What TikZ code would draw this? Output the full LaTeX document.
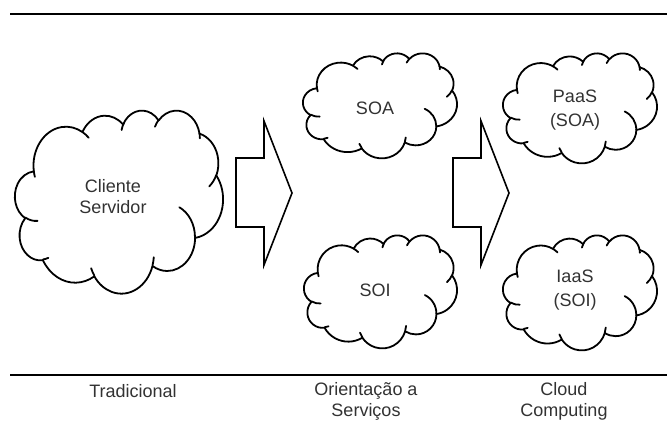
\documentclass[tikz,border=0pt]{standalone}
\usepackage{fontspec}
\setmainfont{Liberation Sans}
\definecolor{textgray}{RGB}{50,50,50}

\tikzset{
  nuvemlinha/.style={draw=black, line width=1.8pt, line join=round, line cap=round},
  rotulo/.style={align=center, text=textgray, font=\fontsize{18}{21}\selectfont, inner sep=0pt},
  seta/.style={draw=black, line width=1.6pt, line join=miter},
  % arc given by its visual start angle / sweep / radii
  oarc/.style args={#1/#2/#3/#4}{x radius=#3, y radius=#4,
    start angle={atan2(#3*sin(#1),#4*cos(#1))},
    delta angle={mod(atan2(#3*sin(#1+#2),#4*cos(#1+#2))-atan2(#3*sin(#1),#4*cos(#1))+720,360)}},
  pics/nuvem/.style={code={
    % outline
    \draw[nuvemlinha] (-177.00,-72.30)
      arc[oarc={-190.4875/123.7805/67.53/91.90}]
      arc[oarc={-144.1024/89.9452/53.33/72.67}]
      arc[oarc={-145.8079/99.7230/43.65/59.45}]
      arc[oarc={-130.9861/117.2417/48.57/65.95}]
      arc[oarc={-78.7089/109.0269/53.33/72.73}]
      arc[oarc={-46.2673/130.2690/67.75/92.20}]
      arc[oarc={0.6250/114.0333/57.85/78.67}]
      arc[oarc={22.4516/115.1726/67.52/92.15}]
      arc[oarc={66.2426/75.7110/77.20/105.43}]
      arc[oarc={-274.9421/146.7356/43.60/59.18}]
      arc[oarc={-246.8285/152.5189/43.45/59.45}]
      -- cycle;
    % curls
    \draw[nuvemlinha]
      (-169.07,45.77) arc[oarc={86.742/26.4295/43.45/59.45}]
      (-146.72,132.99) arc[oarc={73.6105/11.4475/43.60/59.18}]
      (-51.22,174.90) arc[oarc={137.6242/14.0811/67.52/92.15}]
      (72.27,131.51) arc[oarc={6.4533/15.9984/67.52/92.15}]
      (125.29,13.54) arc[oarc={-70.2924/70.9174/57.85/78.67}]
      (201.98,-62.46) arc[oarc={30.3180/27.7515/53.33/72.73}]
      (167.24,-161.74) arc[oarc={-13.7443/14.8589/48.57/65.95}]
      (74.78,-176.48) arc[oarc={-149.1815/18.1954/48.57/65.95}]
      (5.41,-168.80) arc[oarc={-163.4943/20.7646/43.65/59.45}]
      (-76.00,-164.08) arc[oarc={-66.7070/12.3194/67.53/91.90}]
      (-174.73,-58.11) arc[oarc={157.6544/11.8582/67.53/91.90}];
  }}
}

\begin{document}
\begin{tikzpicture}[x=1pt,y=-1pt]
        \useasboundingbox (0,0) rectangle (667,424);

        % horizontal rules
        \draw[line width=2.5pt] (10,14) -- (667,14);
        \draw[line width=2.5pt] (10,375) -- (667,375);

        % clouds
        \pic[xscale=208/432, yscale=183/432] at (119,201.5) {nuvem};
        \pic[xscale=154/432, yscale=105/432] at (380,105.5) {nuvem};
        \pic[xscale=153/432, yscale=113/432] at (380.5,291.5) {nuvem};
        \pic[xscale=154/432, yscale=110/432] at (580,108) {nuvem};
        \pic[xscale=154/432, yscale=115/432] at (580,292.5) {nuvem};

        % texts in the clouds
        \node[rotulo] (cs) at (113,197) {Cliente\\Servidor};
        \node[rotulo] (soa) at (375,108) {SOA};
        \node[rotulo] (soi) at (375,290) {SOI};
        \node[rotulo] (paas) at (575,110) {PaaS\\[3pt](SOA)};
        \node[rotulo] (iaas) at (575,290) {IaaS\\[3pt](SOI)};

        % block arrows
        \foreach \dx in {0,217} {
            \draw[seta] (236+\dx,158) -- (264+\dx,158) -- (264+\dx,121) -- (292+\dx,193)
                -- (264+\dx,265) -- (264+\dx,227) -- (236+\dx,227) -- cycle;
        }

        % names
        \node[rotulo] (trad) at (133,391) {Tradicional};
        \node[rotulo] (orient) at (366,401) {Orientação a\\Serviços};
        \node[rotulo] (cloud) at (564,401) {Cloud\\Computing};
\end{tikzpicture}
\end{document}
